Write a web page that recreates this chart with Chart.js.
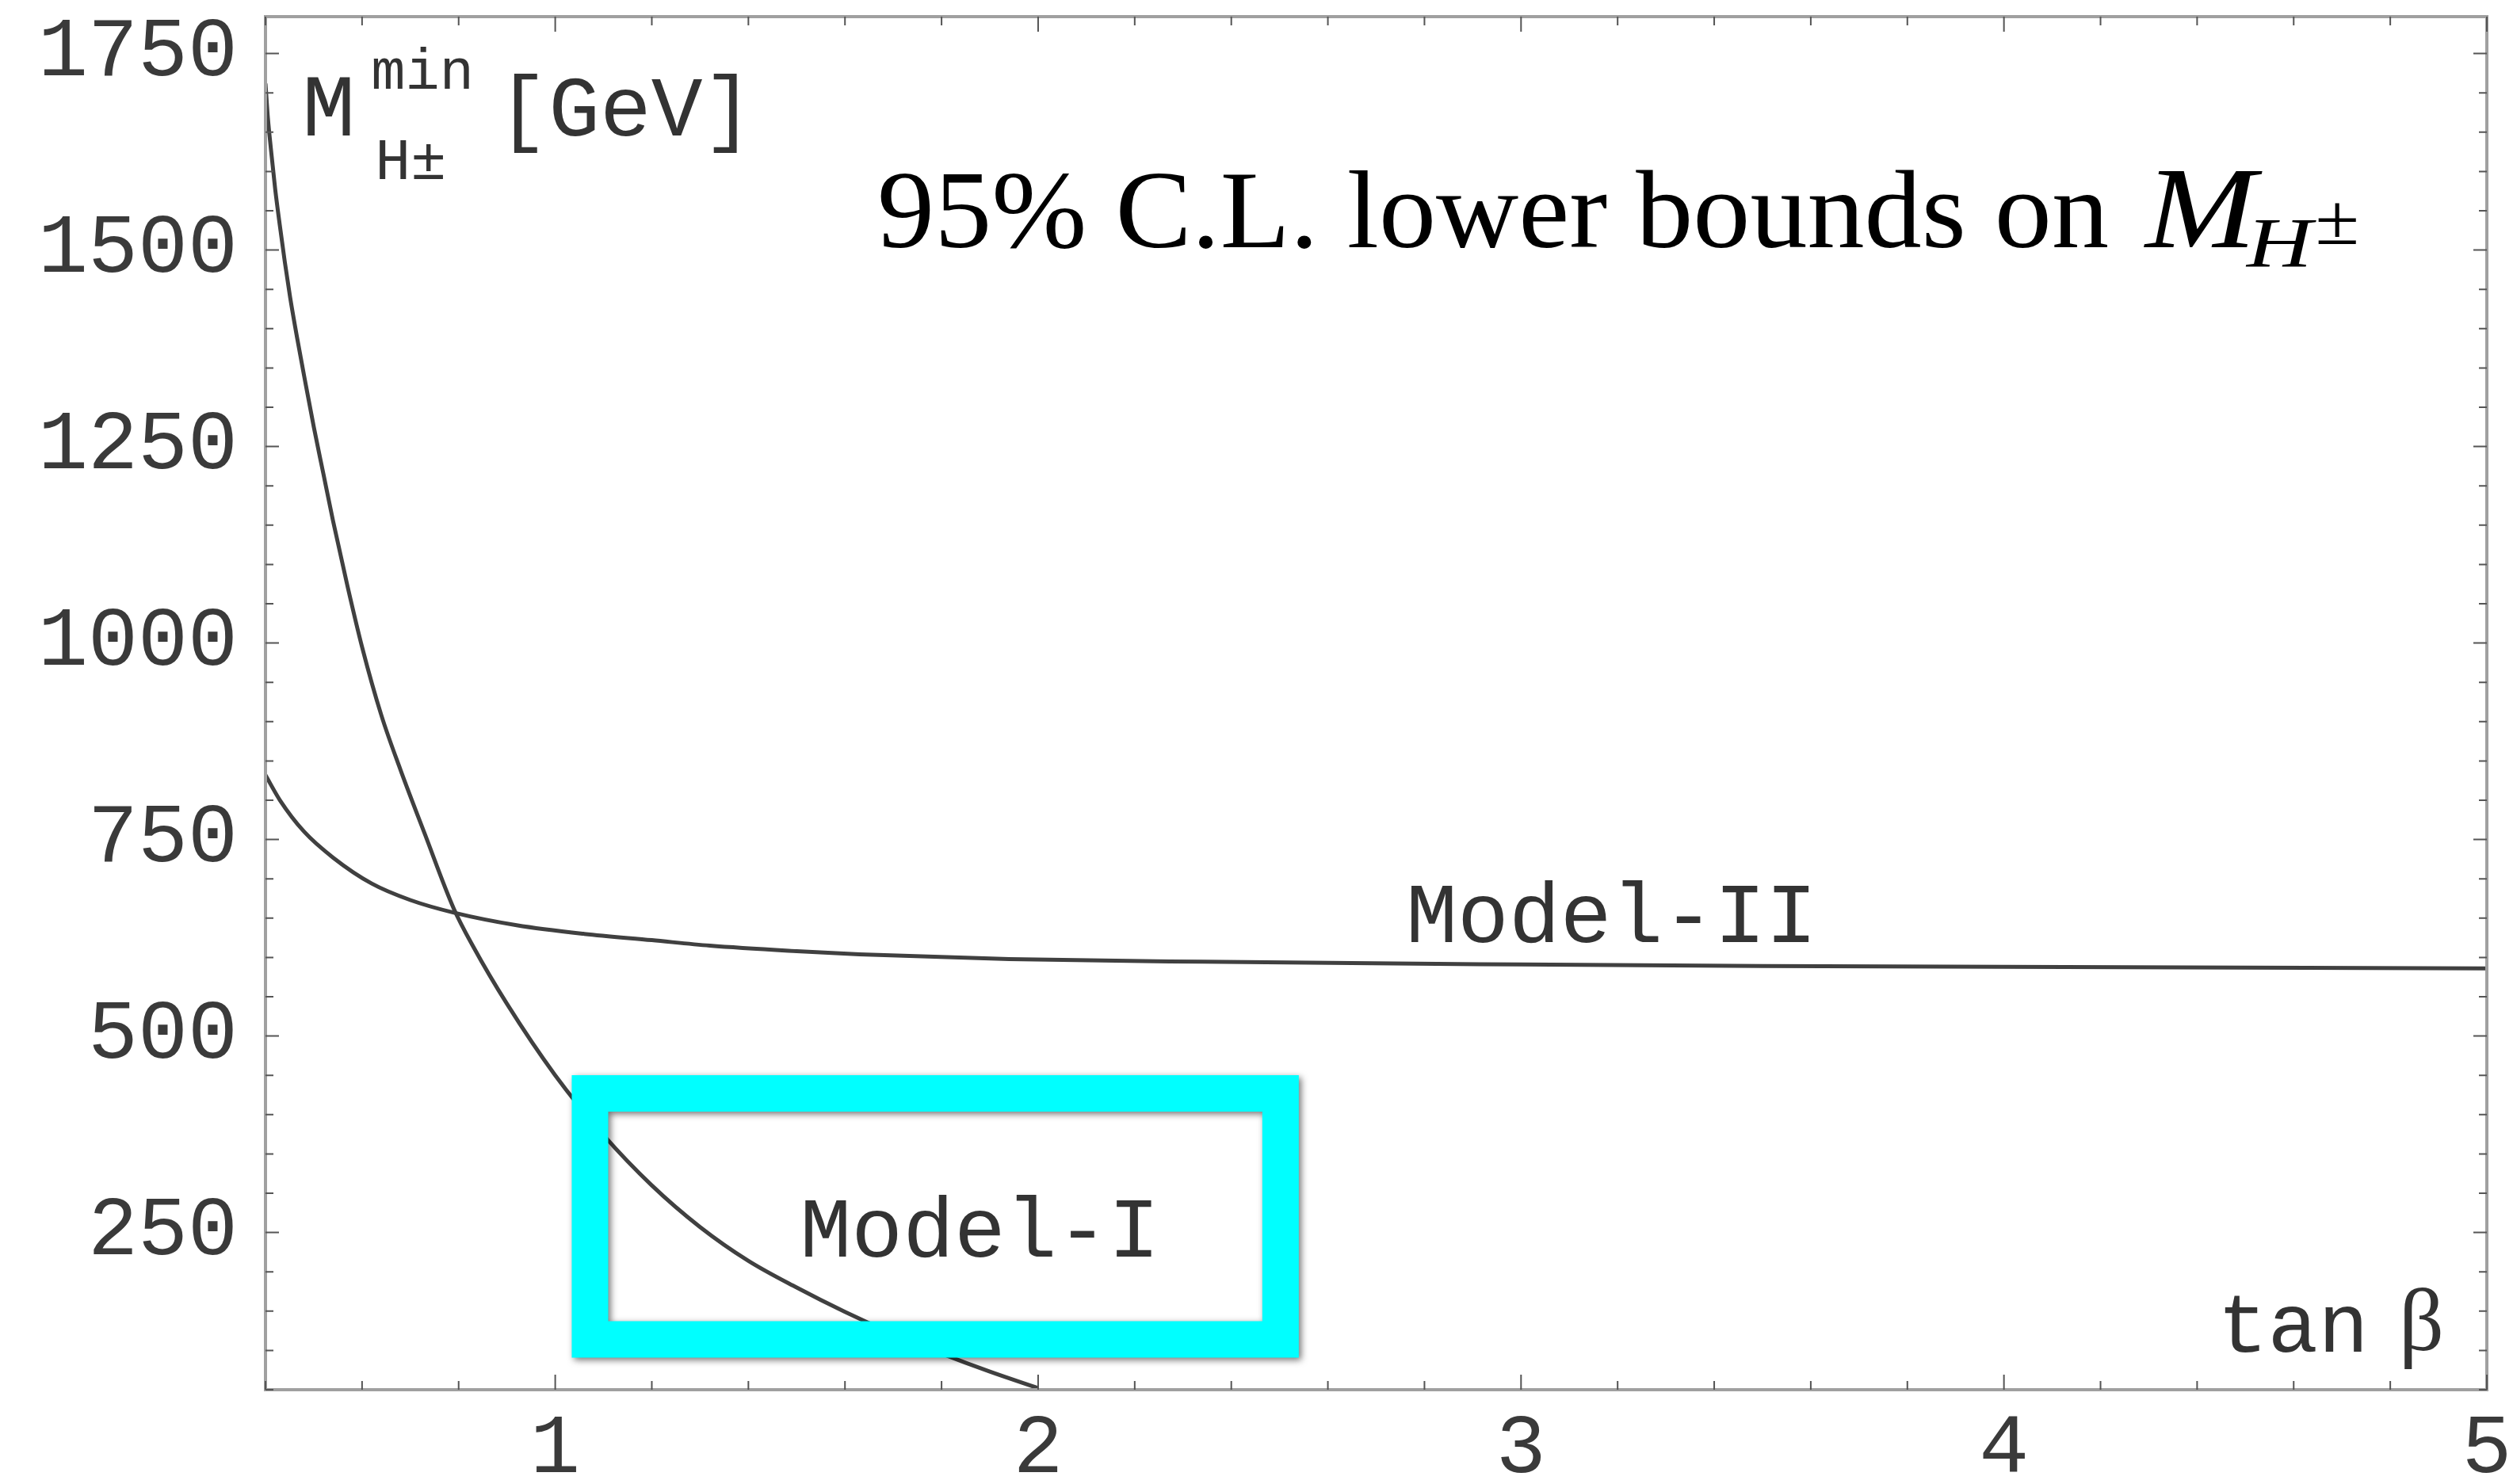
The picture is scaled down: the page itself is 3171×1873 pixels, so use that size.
<!DOCTYPE html>
<html><head><meta charset="utf-8">
<script src="https://cdn.jsdelivr.net/npm/chart.js@4.4.1/dist/chart.umd.min.js"></script>
<style>html,body{margin:0;padding:0;background:#fff;}#wrap{width:3171px;height:1873px;}</style>
</head><body><div id="wrap"><canvas id="c" width="3171" height="1873"></canvas></div>
<script>
// ---- data ----
const modelI_x = [0.400,0.405,0.411,0.420,0.430,0.440,0.451,0.465,0.480,0.500,0.520,0.540,0.570,0.600,0.640,0.680,0.730,0.790,0.830,0.900,1.000,1.100,1.200,1.300,1.400,1.500,1.600,1.700,1.800,1.900,2.000];
const modelI_y = [1712,1668,1630,1578,1530,1485,1440,1390,1340,1275,1215,1155,1072,995,908,838,757,662,614,541,450,374,310,257,214,180,149,121,96,73,52];
const modelII_x = [0.40,0.43,0.48,0.54,0.62,0.70,0.79,0.92,1.06,1.20,1.32,1.50,1.63,1.94,2.34,3.00,3.50,4.00,4.50,5.00];
const modelII_y = [832,800,760,727,694,673,657,641,630,622,615,608,604,598,594.5,591,589,588,587,586];
const xMajorTicks = [1,2,3,4,5];
const yMajorTicks = [250,500,750,1000,1250,1500,1750];
const xMinorStep = 0.2;
const yMinorStep = 50;
const xRange = [0.4, 5];
const yRange = [50, 1797];
const seriesNames = ['Model-I','Model-II'];
const titleText = '95% C.L. lower bounds on ';
const yAxisName = ['M','min','H\u00B1','[GeV]'];
const xAxisName = ['tan','\u03B2'];
const highlightBox = [1.072, 2.502, 114, 427]; // x0, x1, y0, y1 in data units

// ---- annotation placement (data coordinates) ----
const place = {
  title: {x: 1.667, y: 1504},
  yName: {x: 0.481, y: 1646},
  xName: {x: 4.442, y: 98},
  modelI: {x: 1.507, y: 219},
  modelII: {x: 2.762, y: 620}
};

const MONO = '"Liberation Mono", "Courier New", monospace';
const SERIF = '"Liberation Serif", "Times New Roman", serif';

function pts(xs, ys){ return xs.map((x,i)=>({x:x, y:ys[i]})); }

function scaledText(ctx, s, x, y, sx){
  ctx.save(); ctx.translate(x, y); ctx.scale(sx, 1); ctx.fillText(s, 0, 0); ctx.restore();
  return ctx.measureText(s).width * sx;
}

const decor = {
  id: 'decor',
  afterDatasetsDraw(chart){
    const ctx = chart.ctx, xs = chart.scales.x, ys = chart.scales.y, a = chart.chartArea;
    const px = v => xs.getPixelForValue(v), py = v => ys.getPixelForValue(v);
    ctx.save();
    // highlight box
    ctx.save();
    ctx.strokeStyle = '#00FFFF';
    ctx.lineWidth = 46;
    ctx.lineJoin = 'miter';
    ctx.shadowColor = 'rgba(0,0,0,0.55)';
    ctx.shadowBlur = 8; ctx.shadowOffsetX = 3; ctx.shadowOffsetY = 3;
    const bx0 = px(highlightBox[0]), bx1 = px(highlightBox[1]);
    const by0 = py(highlightBox[3]), by1 = py(highlightBox[2]);
    ctx.strokeRect(bx0, by0, bx1-bx0, by1-by0);
    ctx.restore();

    // frame
    ctx.strokeStyle = '#a0a0a0';
    ctx.lineWidth = 4;
    ctx.strokeRect(a.left, a.top, a.right-a.left, a.bottom-a.top);
    // ticks
    ctx.strokeStyle = '#555';
    ctx.lineWidth = 2;
    ctx.beginPath();
    const nx = Math.round((xRange[1]-xRange[0])/xMinorStep);
    for (let i=0;i<=nx;i++){
      const v = xRange[0] + i*xMinorStep;
      const major = xMajorTicks.some(t=>Math.abs(t-v)<1e-6);
      const L = major ? 19 : 11;
      const p = px(v);
      ctx.moveTo(p, a.bottom); ctx.lineTo(p, a.bottom-L);
      ctx.moveTo(p, a.top); ctx.lineTo(p, a.top+L);
    }
    const ny0 = Math.ceil(yRange[0]/yMinorStep), ny1 = Math.floor(yRange[1]/yMinorStep);
    for (let k=ny0;k<=ny1;k++){
      const v = k*yMinorStep;
      const major = yMajorTicks.includes(v);
      const L = major ? 17 : 10;
      const p = py(v);
      ctx.moveTo(a.left, p); ctx.lineTo(a.left+L, p);
      ctx.moveTo(a.right, p); ctx.lineTo(a.right-L, p);
    }
    ctx.stroke();

    ctx.textBaseline = 'alphabetic';
    ctx.textAlign = 'left';
    // series labels
    ctx.fillStyle = '#333';
    ctx.font = '108px ' + MONO;
    ctx.fillText(seriesNames[0], px(place.modelI.x), py(place.modelI.y));
    ctx.fillText(seriesNames[1], px(place.modelII.x), py(place.modelII.y));

    // y axis name
    let X = px(place.yName.x), Y = py(place.yName.y);
    ctx.font = '112px ' + MONO;
    ctx.fillText(yAxisName[0], X - 3, Y);
    ctx.font = '72px ' + MONO;
    ctx.fillText(yAxisName[1], X + 84, Y - 59);
    ctx.font = '75px ' + MONO;
    ctx.fillText(yAxisName[2], X + 89, Y + 55);
    ctx.font = '108px ' + MONO;
    ctx.fillText(yAxisName[3], X + 243, Y);

    // x axis name
    X = px(place.xName.x); Y = py(place.xName.y);
    ctx.font = '106px ' + MONO;
    ctx.fillText(xAxisName[0], X, Y);
    ctx.font = '112px ' + SERIF;
    ctx.fillText(xAxisName[1], X + 229, Y - 2);

    // title
    ctx.fillStyle = '#000';
    X = px(place.title.x); Y = py(place.title.y);
    ctx.font = '140px ' + SERIF;
    const w = scaledText(ctx, titleText, X, Y, 1.03);
    ctx.font = 'italic 146px ' + SERIF;
    const wM = scaledText(ctx, 'M', X + w + 10, Y, 1.15);
    ctx.font = 'italic 88px ' + SERIF;
    const wH = scaledText(ctx, 'H', X + w + wM - 2, Y + 24, 1.3);
    ctx.font = '92px ' + SERIF;
    scaledText(ctx, '\u00B1', X + w + wM + wH + 2, Y - 4, 1.1);
    ctx.restore();
  }
};

new Chart(document.getElementById('c'), {
  type: 'scatter',
  data: {
    datasets: [
      {label: seriesNames[0], data: pts(modelI_x, modelI_y), showLine: true, pointRadius: 0,
       borderColor: '#404040', borderWidth: 5, cubicInterpolationMode: 'monotone', fill: false},
      {label: seriesNames[1], data: pts(modelII_x, modelII_y), showLine: true, pointRadius: 0,
       borderColor: '#404040', borderWidth: 5, cubicInterpolationMode: 'monotone', fill: false}
    ]
  },
  options: {
    responsive: false,
    animation: false,
    devicePixelRatio: 1,
    layout: {padding: {top: 21, right: 33, left: 0, bottom: 0}},
    plugins: {legend: {display: false}, tooltip: {enabled: false}, title: {display: false}},
    scales: {
      x: {
        type: 'linear', min: xRange[0], max: xRange[1],
        afterBuildTicks: s => { s.ticks = xMajorTicks.map(v => ({value: v})); },
        afterFit: s => { s.height = 119; s.paddingLeft = 0; s.paddingRight = 0; s.paddingTop = 0; s.paddingBottom = 0; },
        grid: {display: false, drawTicks: false},
        border: {display: false},
        ticks: {font: {family: MONO, size: 105}, color: '#3a3a3a', padding: 13, maxRotation: 0, autoSkip: false,
                callback: v => String(v)}
      },
      y: {
        type: 'linear', min: yRange[0], max: yRange[1],
        afterBuildTicks: s => { s.ticks = yMajorTicks.map(v => ({value: v})); },
        afterFit: s => { s.width = 335; s.paddingTop = 0; s.paddingBottom = 0; s.paddingLeft = 0; s.paddingRight = 0; },
        grid: {display: false, drawTicks: false},
        border: {display: false},
        ticks: {font: {family: MONO, size: 105}, color: '#3a3a3a', padding: 35, autoSkip: false,
                callback: v => String(v)}
      }
    }
  },
  plugins: [decor]
});
</script>
</body></html>
